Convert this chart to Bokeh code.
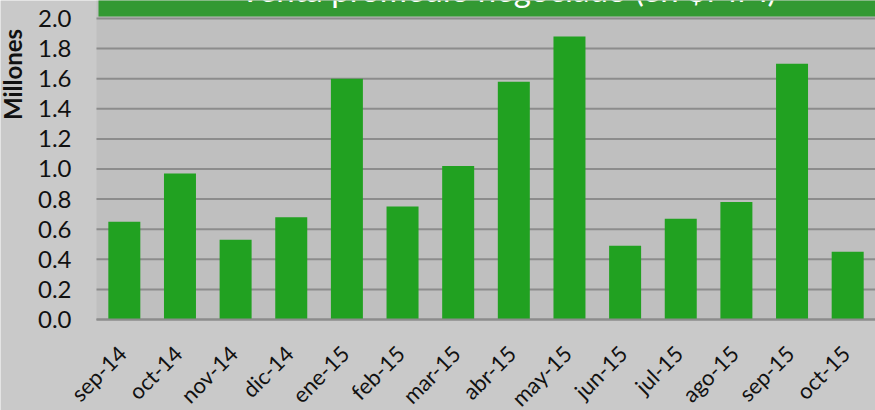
import math
from bokeh.plotting import figure
from bokeh.models import Range1d, ColumnDataSource
from bokeh.core.properties import value
from bokeh.embed import file_html
from bokeh.resources import INLINE

# ---- data ----
months = ["sep-14", "oct-14", "nov-14", "dic-14", "ene-15", "feb-15", "mar-15",
          "abr-15", "may-15", "jun-15", "jul-15", "ago-15", "sep-15", "oct-15"]
sales_millions = [0.65, 0.97, 0.53, 0.68, 1.60, 0.75, 1.02,
                  1.58, 1.88, 0.49, 0.67, 0.78, 1.70, 0.45]
y_ticks = [0.0, 0.2, 0.4, 0.6, 0.8, 1.0, 1.2, 1.4, 1.6, 1.8, 2.0]
y_tick_labels = ["0.0", "0.2", "0.4", "0.6", "0.8", "1.0", "1.2", "1.4",
                 "1.6", "1.8", "2.0"]
title_text = "Venta promedio negociado (en $MM)"
y_unit_label = "Millones"

FONT = "Lato"
N = len(months)
X0, X1 = -1.7254, N          # plot area spans 0..N; left part holds the y labels
Y0, Y1 = -0.6047, 2.1196     # below 0 holds the category labels

positions = [i + 0.5 for i in range(N)]
src = ColumnDataSource(dict(x=positions, top=sales_millions, label=months,
                            base=[0.0] * N))
ysrc = ColumnDataSource(dict(y=y_ticks, label=y_tick_labels,
                             x0=[0.0] * len(y_ticks), x1=[N] * len(y_ticks)))

p = figure(width=875, height=410, output_backend="svg", toolbar_location=None,
           x_range=Range1d(X0, X1), y_range=Range1d(Y0, Y1),
           min_border_left=0, min_border_right=0, min_border_top=0,
           min_border_bottom=0, x_axis_location=None, y_axis_location=None)
p.border_fill_color = "#c9c9c9"
p.background_fill_color = "#c9c9c9"
p.outline_line_color = None
p.grid.visible = False

# plot area
p.quad(left=0, right=N, bottom=0, top=Y1, fill_color="#bfbfbf", line_color=None)

# gridlines and value labels
p.segment(x0="x0", x1="x1", y0="y", y1="y", source=ysrc,
          line_color="#8c8c8c", line_width=2)
p.text(x="x0", y="y", text="label", source=ysrc, x_offset=-25,
       text_align="right", text_baseline="middle", text_font=value(FONT),
       text_font_size="24px", text_color="#111111")

# title band
p.quad(left=0.036, right=N, bottom=2.0133, top=2.3,
       fill_color="#339933", line_color=None)
p.text(x=[7.39], y=[2.195], text=[title_text], text_color="white",
       text_font=value(FONT), text_font_size="33px", text_align="center",
       text_baseline="alphabetic")

# bars
p.vbar(x="x", top="top", width=0.575, bottom=0, source=src,
       fill_color="#21a121", line_color=None)

# category axis line and labels
p.segment(x0=[0], x1=[N], y0=[0], y1=[0], line_color="#8c8c8c", line_width=2)
p.text(x="x", y="base", text="label", source=src, angle=math.pi / 4,
       x_offset=-2, y_offset=30, text_align="right", text_baseline="middle",
       text_font=value(FONT), text_font_size="22px", text_color="#111111")

# display-unit label
p.text(x=[X0], y=[Y1], text=[y_unit_label], angle=math.pi / 2,
       x_offset=12, y_offset=74, text_align="center",
       text_baseline="alphabetic", text_font=value(FONT),
       text_font_size="24px", text_font_style="bold", text_color="#111111")

open("out.html", "w").write(file_html(p, INLINE))
